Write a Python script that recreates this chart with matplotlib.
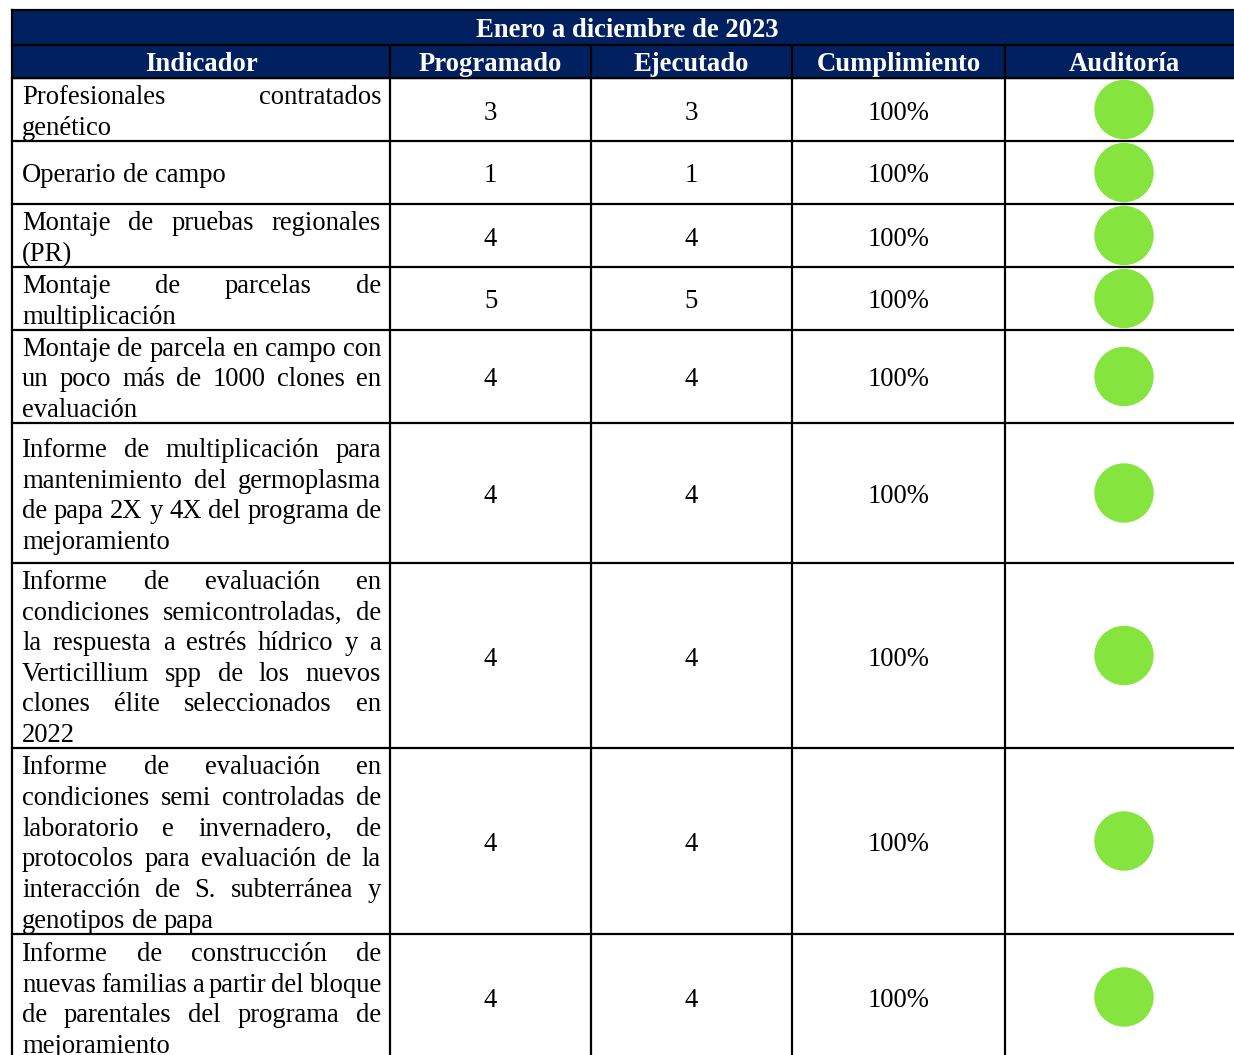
import numpy as np
import matplotlib.pyplot as plt
from matplotlib.patches import Rectangle, Circle

# Datos de la tabla
titulo = "Enero a diciembre de 2023"
columnas = ["Indicador", "Programado", "Ejecutado", "Cumplimiento", "Auditoría"]
indicadores = [
    "Profesionales contratados\ngenético",
    "Operario de campo",
    "Montaje de pruebas regionales\n(PR)",
    "Montaje de parcelas de\nmultiplicación",
    "Montaje de parcela en campo con\nun poco más de 1000 clones en\nevaluación",
    "Informe de multiplicación para\nmantenimiento del germoplasma\nde papa 2X y 4X del programa de\nmejoramiento",
    "Informe de evaluación en\ncondiciones semicontroladas, de\nla respuesta a estrés hídrico y a\nVerticillium spp de los nuevos\nclones élite seleccionados en\n2022",
    "Informe de evaluación en\ncondiciones semi controladas de\nlaboratorio e invernadero, de\nprotocolos para evaluación de la\ninteracción de S. subterránea y\ngenotipos de papa",
    "Informe de construcción de\nnuevas familias a partir del bloque\nde parentales del programa de\nmejoramiento",
]
programado = [3, 1, 4, 5, 4, 4, 4, 4, 4]
ejecutado = [3, 1, 4, 5, 4, 4, 4, 4, 4]

# Layout (pixeles)
W, H = 1234, 1055
col_x = [12, 390, 591, 792, 1005, 1243]
y_top, y_head, y_body = 10, 45, 78
alto_filas = [63, 63, 63, 63, 93, 140, 185, 186, 126]
navy = "#002060"
verde = "#86E43F"
fs = 19.2
fuente = "Liberation Serif"
interlinea = 30.6
lw = 1.6

fig = plt.figure(figsize=(W / 100, H / 100), dpi=100)
ax = fig.add_axes([0, 0, 1, 1])
ax.set_xlim(0, W)
ax.set_ylim(H, 0)
ax.axis("off")
renderer = fig.canvas.get_renderer()

# Encabezado
ax.add_patch(Rectangle((col_x[0], y_top), col_x[-1] - col_x[0], y_body - y_top,
                       color=navy, zorder=1))
ax.text((col_x[0] + col_x[-1]) / 2, (y_top + y_head) / 2 + 3, titulo,
        ha="center", va="center", color="white", fontsize=fs,
        fontweight="bold", family=fuente, zorder=3)
for i, c in enumerate(columnas):
    ax.text((col_x[i] + col_x[i + 1]) / 2, (y_head + y_body) / 2 + 3, c,
            ha="center", va="center", color="white", fontsize=fs,
            fontweight="bold", family=fuente, zorder=3)


def ancho(t):
    return t.get_window_extent(renderer).width


def linea_justificada(texto, x0, x1, yb, justificar):
    palabras = texto.split()
    objs = [ax.text(0, yb, p, ha="left", va="baseline", fontsize=fs,
                    family=fuente, color="black", zorder=3) for p in palabras]
    anchos = [ancho(o) for o in objs]
    esp = ancho(ax.text(0, 0, "a a", fontsize=fs, family=fuente, alpha=0)) - \
        2 * ancho(ax.text(0, 0, "a", fontsize=fs, family=fuente, alpha=0))
    if justificar and len(palabras) > 1:
        esp = (x1 - x0 - sum(anchos)) / (len(palabras) - 1)
    x = x0
    for o, w in zip(objs, anchos):
        o.set_x(x)
        x += w + esp


# Filas
y = y_body
bordes_y = [y_top, y_head, y_body]
for k, texto in enumerate(indicadores):
    h = alto_filas[k]
    cy = y + h / 2 + 2.5
    lineas = texto.split("\n")
    n = len(lineas)
    for i, l in enumerate(lineas):
        yc = cy + (i - (n - 1) / 2) * interlinea
        linea_justificada(l, col_x[0] + 10, col_x[1] - 9, yc + 7.5, i < n - 1)
    valores = [str(programado[k]), str(ejecutado[k]),
               f"{ejecutado[k] / programado[k]:.0%}"]
    for j, v in enumerate(valores):
        ax.text((col_x[j + 1] + col_x[j + 2]) / 2, cy + 7.5, v, ha="center",
                va="baseline", fontsize=fs, family=fuente, zorder=3)
    ax.add_patch(Circle(((col_x[4] + col_x[5]) / 2, y + h / 2), 29,
                        color=verde, zorder=2))
    y += h
    bordes_y.append(y)

# Bordes
for yy in bordes_y:
    ax.plot([col_x[0], col_x[-1]], [yy, yy], color="black", lw=lw, zorder=4,
            solid_capstyle="projecting")
ax.plot([col_x[0], col_x[0]], [y_top, bordes_y[-1]], color="black", lw=lw, zorder=4)
for xx in col_x[1:-1]:
    ax.plot([xx, xx], [y_head, bordes_y[-1]], color="black", lw=lw, zorder=4)

fig.savefig("out.png", dpi=100)
